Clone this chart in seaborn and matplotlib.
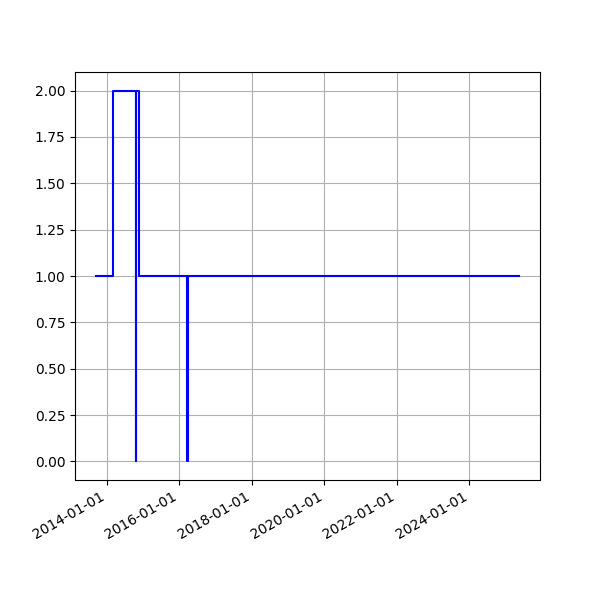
import pandas as pd
import seaborn as sns
import matplotlib
matplotlib.use('Agg')
import matplotlib.pyplot as plt
import matplotlib.dates as mdates

# Моменты изменения значения и сами значения (ступенчатый ряд)
dates = ['2013-09-13', '2014-03-02', '2014-10-19', '2014-10-22', '2014-11-22',
         '2016-03-19', '2016-03-24', '2025-05-14']
values = [1, 2, 0, 2, 1, 0, 1, 1]

df = pd.DataFrame({'date': pd.to_datetime(dates), 'value': values})

fig, ax = plt.subplots(figsize=(6, 6), dpi=100)

sns.lineplot(x='date', y='value', data=df, drawstyle='steps-post',
             color='blue', linewidth=1.5, ax=ax)

ax.xaxis.set_major_formatter(mdates.DateFormatter('%Y-%m-%d'))
ax.set_xlabel('')
ax.set_ylabel('')
ax.grid(True)
fig.autofmt_xdate()

plt.savefig('out.png')
